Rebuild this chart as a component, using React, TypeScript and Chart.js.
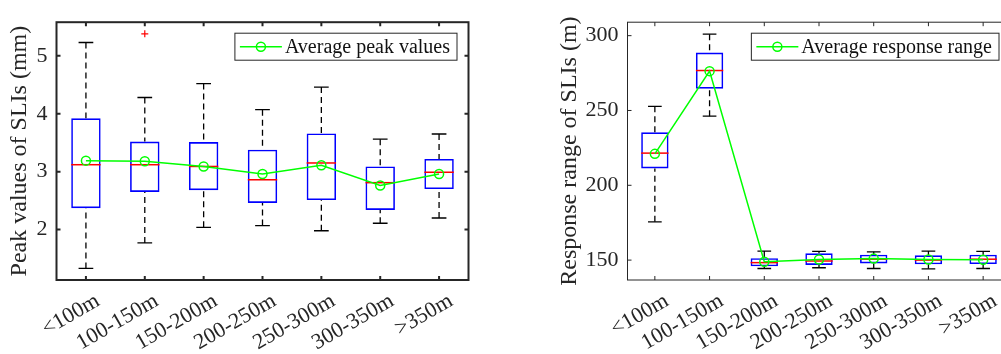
import React, { useEffect, useRef } from 'react';
import { Chart, registerables } from 'chart.js';

Chart.register(...registerables);

const FAMILY = "'Liberation Serif', 'Times New Roman', Times, serif";
const TEXT = '#262626';

const CATEGORIES = ['<100m', '100-150m', '150-200m', '200-250m', '250-300m', '300-350m', '>350m'];

// Left panel: peak values of SLIs (mm)
const PEAK_LOW = [1.33, 1.77, 2.04, 2.07, 1.98, 2.11, 2.2];
const PEAK_Q1 = [2.37, 2.65, 2.68, 2.46, 2.51, 2.34, 2.7];
const PEAK_MEDIAN = [3.12, 3.12, 3.09, 2.86, 3.15, 2.81, 2.99];
const PEAK_Q3 = [3.92, 3.52, 3.51, 3.38, 3.66, 3.09, 3.22];
const PEAK_HIGH = [5.23, 4.28, 4.52, 4.07, 4.46, 3.56, 3.65];
const PEAK_MEAN = [3.19, 3.18, 3.09, 2.96, 3.11, 2.76, 2.96];
const PEAK_OUTLIERS: number[][] = [[], [5.38], [], [], [], [], []];
const PEAK_Y_TICKS = [2, 3, 4, 5];
const PEAK_Y_MIN = 1.13;
const PEAK_Y_MAX = 5.58;

// Right panel: response range of SLIs (m)
const RANGE_LOW = [175.6, 246.2, 144.4, 144.9, 144.4, 144.2, 144.4];
const RANGE_Q1 = [211.3, 264.6, 145.9, 146.8, 147.8, 147.2, 147.4];
const RANGE_MEDIAN = [221.5, 276.7, 148.3, 149.4, 150.6, 150.0, 150.6];
const RANGE_Q3 = [235.4, 288.7, 151.3, 154.5, 153.6, 153.2, 153.6];
const RANGE_HIGH = [252.8, 301.0, 156.0, 155.8, 155.5, 156.0, 155.8];
const RANGE_MEAN = [221.0, 276.3, 148.9, 150.4, 151.0, 150.4, 150.2];
const RANGE_OUTLIERS: number[][] = [[], [], [], [], [], [], []];
const RANGE_Y_TICKS = [150, 200, 250, 300];
const RANGE_Y_MIN = 136.7;
const RANGE_Y_MAX = 309;

type PanelProps = {
  low: number[];
  q1: number[];
  med: number[];
  q3: number[];
  high: number[];
  mean: number[];
  outliers: number[][];
  yTicks: number[];
  yMin: number;
  yMax: number;
  yTitle: string;
  legendText: string;
  frameWidth: number;
  yAxisWidth: number;
  padRight: number;
  width: number;
  left: number;
};

function makePlugin(p: PanelProps) {
  return {
    id: 'matlabBoxplot',
    afterDatasetDraw(chart: any, args: any) {
      if (args.index !== 0) return;
      const ctx: CanvasRenderingContext2D = chart.ctx;
      const x = chart.scales.x;
      const y = chart.scales.y;
      const meta = args.meta;
      ctx.save();
      p.q1.forEach((_, i) => {
        const cx = x.getPixelForValue(i);
        const bw = (meta.data[i] as any).width as number;
        const yLow = y.getPixelForValue(p.low[i]);
        const yHigh = y.getPixelForValue(p.high[i]);
        const yQ1 = y.getPixelForValue(p.q1[i]);
        const yQ3 = y.getPixelForValue(p.q3[i]);
        const yMed = y.getPixelForValue(p.med[i]);
        // dashed whiskers
        ctx.strokeStyle = '#000000';
        ctx.lineWidth = 1.3;
        ctx.setLineDash([6, 4]);
        ctx.beginPath();
        ctx.moveTo(cx, yHigh);
        ctx.lineTo(cx, yQ3);
        ctx.moveTo(cx, yLow);
        ctx.lineTo(cx, yQ1);
        ctx.stroke();
        // caps
        ctx.setLineDash([]);
        ctx.beginPath();
        ctx.moveTo(cx - bw / 4, yHigh);
        ctx.lineTo(cx + bw / 4, yHigh);
        ctx.moveTo(cx - bw / 4, yLow);
        ctx.lineTo(cx + bw / 4, yLow);
        ctx.stroke();
        // median
        ctx.strokeStyle = '#FF0000';
        ctx.lineWidth = 1.5;
        ctx.beginPath();
        ctx.moveTo(cx - bw / 2, yMed);
        ctx.lineTo(cx + bw / 2, yMed);
        ctx.stroke();
        // outliers
        ctx.lineWidth = 1.2;
        p.outliers[i].forEach((v) => {
          const oy = y.getPixelForValue(v);
          ctx.beginPath();
          ctx.moveTo(cx - 3.5, oy);
          ctx.lineTo(cx + 3.5, oy);
          ctx.moveTo(cx, oy - 3.5);
          ctx.lineTo(cx, oy + 3.5);
          ctx.stroke();
        });
      });
      ctx.restore();
    },
    afterDraw(chart: any) {
      const ctx: CanvasRenderingContext2D = chart.ctx;
      const { left, right, top, bottom } = chart.chartArea;
      const x = chart.scales.x;
      const y = chart.scales.y;
      ctx.save();
      // frame
      ctx.strokeStyle = TEXT;
      ctx.lineWidth = p.frameWidth;
      ctx.setLineDash([]);
      ctx.strokeRect(left, top, right - left, bottom - top);
      // inward ticks
      const tl = 4;
      ctx.beginPath();
      CATEGORIES.forEach((_, i) => {
        const px = x.getPixelForValue(i);
        ctx.moveTo(px, bottom);
        ctx.lineTo(px, bottom - tl);
        ctx.moveTo(px, top);
        ctx.lineTo(px, top + tl);
      });
      p.yTicks.forEach((v) => {
        const py = y.getPixelForValue(v);
        ctx.moveTo(left, py);
        ctx.lineTo(left + tl, py);
        ctx.moveTo(right, py);
        ctx.lineTo(right - tl, py);
      });
      ctx.stroke();
      // legend
      ctx.font = `20px ${FAMILY}`;
      const tw = ctx.measureText(p.legendText).width;
      const w = 5 + 42 + 3 + tw + 7;
      const h = 27;
      const lr = right - 11.5;
      const lx = lr - w;
      const ly = top + 11;
      ctx.fillStyle = '#ffffff';
      ctx.fillRect(lx, ly, w, h);
      ctx.strokeStyle = TEXT;
      ctx.lineWidth = 1;
      ctx.strokeRect(lx, ly, w, h);
      const cy = ly + h / 2;
      ctx.strokeStyle = '#00FF00';
      ctx.lineWidth = 1.5;
      ctx.beginPath();
      ctx.moveTo(lx + 5, cy);
      ctx.lineTo(lx + 47, cy);
      ctx.stroke();
      ctx.beginPath();
      ctx.arc(lx + 26, cy, 4.5, 0, Math.PI * 2);
      ctx.stroke();
      ctx.fillStyle = '#111111';
      ctx.textBaseline = 'middle';
      ctx.textAlign = 'left';
      ctx.fillText(p.legendText, lx + 50, cy + 1);
      ctx.restore();
    },
  };
}

function Panel(p: PanelProps) {
  const ref = useRef<HTMLCanvasElement | null>(null);
  useEffect(() => {
    if (!ref.current) return;
    const chart = new Chart(ref.current, {
      type: 'bar',
      data: {
        labels: CATEGORIES,
        datasets: [
          {
            type: 'bar',
            label: 'box',
            data: p.q1.map((v, i) => [v, p.q3[i]]) as any,
            backgroundColor: 'rgba(0,0,0,0)',
            borderColor: '#0000FF',
            borderWidth: 1.6,
            borderSkipped: false,
            barPercentage: 0.5,
            categoryPercentage: 1,
            order: 1,
          } as any,
          {
            type: 'line',
            label: p.legendText,
            data: p.mean,
            borderColor: '#00FF00',
            borderWidth: 1.5,
            pointRadius: 4.5,
            pointBorderWidth: 1.5,
            pointBorderColor: '#00FF00',
            pointBackgroundColor: 'rgba(0,0,0,0)',
            tension: 0,
            fill: false,
            order: 0,
          } as any,
        ],
      },
      options: {
        responsive: false,
        animation: false,
        devicePixelRatio: 1,
        layout: { padding: { left: 0, right: p.padRight, top: 12, bottom: 0 } },
        plugins: {
          legend: { display: false },
          tooltip: { enabled: false },
        },
        scales: {
          x: {
            type: 'category',
            offset: true,
            grid: { display: false, drawTicks: false },
            border: { display: false },
            ticks: {
              autoSkip: false,
              minRotation: 30,
              maxRotation: 30,
              padding: 8,
              labelOffset: 12,
              color: TEXT,
              font: { family: FAMILY, size: 22 },
            },
            afterFit: (s: any) => {
              s.height = 74;
            },
          },
          y: {
            type: 'linear',
            min: p.yMin,
            max: p.yMax,
            grid: { display: false, drawTicks: false },
            border: { display: false },
            ticks: {
              padding: 9,
              color: TEXT,
              font: { family: FAMILY, size: 22 },
            },
            afterBuildTicks: (s: any) => {
              s.ticks = p.yTicks.map((v) => ({ value: v }));
            },
            afterFit: (s: any) => {
              s.width = p.yAxisWidth;
            },
            title: {
              display: true,
              text: p.yTitle,
              color: TEXT,
              font: { family: FAMILY, size: 24 },
              padding: { top: 5, bottom: 0 },
            },
          },
        },
      } as any,
      plugins: [makePlugin(p) as any],
    });
    return () => chart.destroy();
  }, []);
  return (
    <canvas
      ref={ref}
      width={p.width}
      height={354}
      style={{ position: 'absolute', left: p.left, top: 0, width: p.width, height: 354 }}
    />
  );
}

export default function App() {
  return (
    <div
      style={{
        position: 'absolute',
        left: 0,
        top: 0,
        width: 1001,
        height: 354,
        overflow: 'hidden',
        background: '#ffffff',
      }}
    >
      <Panel
        low={PEAK_LOW}
        q1={PEAK_Q1}
        med={PEAK_MEDIAN}
        q3={PEAK_Q3}
        high={PEAK_HIGH}
        mean={PEAK_MEAN}
        outliers={PEAK_OUTLIERS}
        yTicks={PEAK_Y_TICKS}
        yMin={PEAK_Y_MIN}
        yMax={PEAK_Y_MAX}
        yTitle="Peak values of SLIs (mm)"
        legendText="Average peak values"
        frameWidth={2}
        yAxisWidth={56.5}
        padRight={21.5}
        width={490}
        left={0}
      />
      <Panel
        low={RANGE_LOW}
        q1={RANGE_Q1}
        med={RANGE_MEDIAN}
        q3={RANGE_Q3}
        high={RANGE_HIGH}
        mean={RANGE_MEAN}
        outliers={RANGE_OUTLIERS}
        yTicks={RANGE_Y_TICKS}
        yMin={RANGE_Y_MIN}
        yMax={RANGE_Y_MAX}
        yTitle="Response range of SLIs (m)"
        legendText="Average response range"
        frameWidth={1}
        yAxisWidth={77.5}
        padRight={19.5}
        width={480}
        left={550}
      />
    </div>
  );
}
